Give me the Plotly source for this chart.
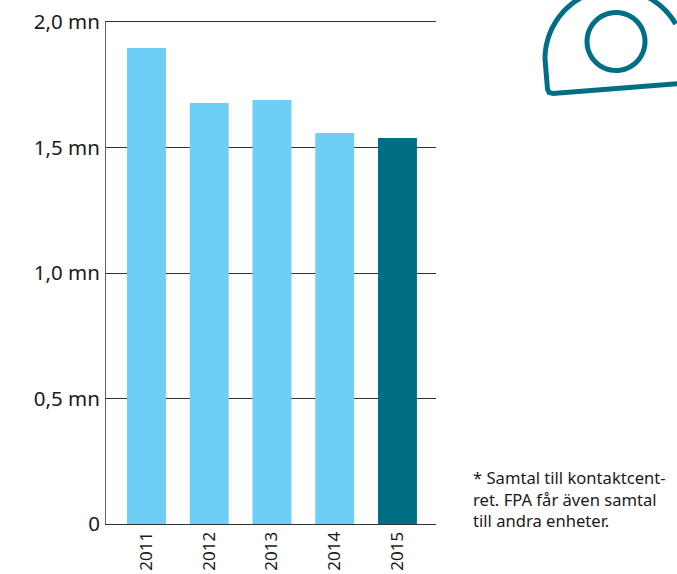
import numpy as np
import plotly.graph_objects as go

years = ["2011", "2012", "2013", "2014", "2015"]
calls = [1.896, 1.677, 1.689, 1.558, 1.538]
bar_colors = ["#6DCFF6", "#6DCFF6", "#6DCFF6", "#6DCFF6", "#006F85"]
y_ticks = [0, 0.5, 1.0, 1.5, 2.0]
y_labels = ["0", "0,5 mn", "1,0 mn", "1,5 mn", "2,0 mn"]
footnote = "* Samtal till kontaktcent-<br>ret. FPA får även samtal<br>till andra enheter."

W, H = 677, 574
L, R, T, B = 106, 436, 22, 524
FONT = "Noto Sans"
TEAL = "#006F85"
INK = "#1A1A1A"


def px(x):
    return (x - L) / (R - L)


def py(y):
    return (B - y) / (B - T)


def path(points, close=False):
    s = "M" + " L".join(f"{px(x):.4f},{py(y):.4f}" for x, y in points)
    return s + (" Z" if close else "")


# decorative helmet outline
cx, cy, r = 615, 59, 70
ang = np.radians(np.linspace(180, 330, 60))
dome = [(cx + r * np.cos(a), cy + r * np.sin(a)) for a in ang]
outline = [(700, 82), (553, 93.5), (549, 92.5), (547.5, 89)] + dome

ring_ang = np.radians(np.linspace(0, 360, 80))
ring = [(616 + 29 * np.cos(a), 41.5 + 29 * np.sin(a)) for a in ring_ang]

fig = go.Figure(
    go.Bar(x=years, y=calls, marker=dict(color=bar_colors, line_width=0), width=0.62)
)
fig.update_layout(
    width=W,
    height=H,
    autosize=False,
    margin=dict(l=L, r=W - R, t=T, b=H - B, pad=0),
    paper_bgcolor="white",
    plot_bgcolor="white",
    showlegend=False,
    font=dict(family=FONT, size=20, color=INK),
    shapes=[
        dict(type="path", xref="paper", yref="paper", path=path(outline),
             line=dict(color=TEAL, width=5), fillcolor="rgba(0,0,0,0)"),
        dict(type="path", xref="paper", yref="paper", path=path(ring, True),
             line=dict(color=TEAL, width=5), fillcolor="rgba(0,0,0,0)"),
    ],
    annotations=[
        dict(text=footnote, xref="paper", yref="paper", x=px(472), y=py(465),
             xanchor="left", yanchor="top", align="left", showarrow=False,
             borderpad=0, font=dict(family=FONT, size=16.6, color=INK))
    ],
)
fig.update_xaxes(
    type="category",
    range=[-0.645, 4.614],
    tickangle=-90,
    ticks="",
    automargin=False,
    ticklabelstandoff=0,
    showgrid=False,
    showline=True,
    mirror=True,
    linecolor="#333333",
    linewidth=1,
    tickfont=dict(family=FONT, size=17),
)
fig.update_yaxes(
    range=[0, 2],
    tickvals=y_ticks,
    ticktext=y_labels,
    ticks="",
    automargin=False,
    ticklabelstandoff=1,
    showgrid=True,
    gridcolor="#333333",
    gridwidth=1,
    zeroline=False,
    showline=True,
    linecolor="#666666",
    linewidth=1,
    tickfont=dict(family=FONT, size=20.5),
)
fig.write_html(
    "out.html",
    config={"displayModeBar": False},
    post_script="document.body.style.margin='0';document.documentElement.style.overflow='hidden';",
)
